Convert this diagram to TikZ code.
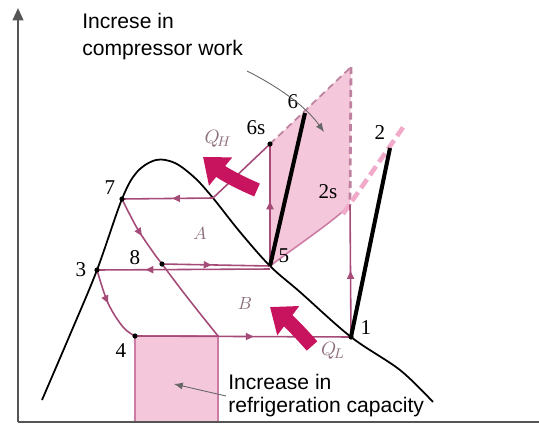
\documentclass[tikz,border=0pt]{standalone}
\usepackage{fontspec}
\setmainfont{Liberation Serif}
\newfontfamily\annfont{Liberation Sans}
\usetikzlibrary{arrows.meta,decorations.markings}
\definecolor{cyc}{RGB}{165,75,120}
\definecolor{pinkfill}{RGB}{244,200,218}
\definecolor{pinkedge}{RGB}{205,125,165}
\definecolor{dashdark}{RGB}{190,130,160}
\definecolor{dashpink}{RGB}{242,170,202}
\definecolor{qmag}{RGB}{200,20,95}
\definecolor{qtext}{RGB}{140,110,125}
\definecolor{axisgray}{RGB}{85,85,85}
\begin{document}
\begin{tikzpicture}[x=0.02cm,y=-0.02cm,
  cycline/.style={draw=cyc, line width=0.9pt},
  midarr/.style={postaction={decorate,decoration={markings,mark=at position #1 with {\arrow{Triangle[length=4.5pt,width=4pt]}}}}},
  ptdot/.style={fill=black},
  num/.style={font=\fontsize{12}{13}\selectfont, inner sep=0pt},
  ann/.style={font=\annfont\fontsize{12}{14}\selectfont, inner sep=0pt, anchor=base west},
  qarrow/.style={draw=qmag, line width=8pt, -{Triangle[width=20pt,length=13pt]}},
  thickblack/.style={line width=2.3pt, black},
  qlab/.style={text=qtext, font=\fontsize{11}{12}\selectfont, inner sep=0pt},
  arealab/.style={text=qtext, font=\itshape\fontsize{10}{11}\selectfont, inner sep=0pt},
  pointer/.style={draw=gray!80!black, line width=0.5pt, -{Latex[length=5pt,width=4pt]}},
]
\useasboundingbox (0,0) rectangle (539,427);
% coordinates
\coordinate (O) at (18,422);
\coordinate (Ytop) at (18,8);
\coordinate (Xend) at (539,422);
\coordinate (p7) at (122,199);
\coordinate (p3) at (97,270);
\coordinate (p8) at (162,264);
\coordinate (p4) at (135,336);
\coordinate (p1) at (351,337);
\coordinate (p5) at (270,266);
\coordinate (p5b) at (270,269);
\coordinate (p6s) at (270,144);
\coordinate (p2s) at (350,205);
\coordinate (p6) at (305,113);
\coordinate (p2) at (390,148);
\coordinate (pH) at (213,198);
\coordinate (ptop) at (351,67);
\coordinate (p9) at (218,336);
\coordinate (rbot) at (218,422);
\coordinate (dstart) at (343,214);
\coordinate (dend) at (404,126);

% pink regions
\fill[pinkfill] (p5) -- (p6s) -- (ptop) -- (p2s) .. controls (332,222) and (305,240) .. (p5) -- cycle;
\fill[pinkfill] (p4) rectangle (rbot);
\draw[pinkedge, line width=0.8pt] (p4 |- rbot) -- (p4) -- (p9) -- (rbot);
\draw[pinkedge, line width=0.9pt] (p2s) .. controls (332,222) and (305,240) .. (p5);
\draw[dashdark, line width=1pt, dash pattern=on 4pt off 2.5pt] (p6s) -- (ptop);
\draw[dashdark, line width=1.6pt, dash pattern=on 4pt off 2.5pt] (ptop) -- (p2s);
\draw[dashpink, line width=2.6pt, dash pattern=on 6pt off 3pt] (dstart) -- (dend);

% axes
\draw[axisgray, line width=1.3pt, -{Triangle[length=7pt,width=6pt]}] (O) -- (Ytop);
\draw[axisgray, line width=1.3pt] (O) -- (Xend);

% saturation dome
\draw[black, line width=1pt] plot[smooth, tension=0.55] coordinates {(42,400) (72,330) (p3) (p7) (137,172) (156,160) (175,163) (195,178) (pH) (240,232) (p5) (300,292) (p1) (400,370) (433,402)};

% cycle lines
\draw[cycline, midarr=0.45] (pH) -- (p7);
\draw[cycline] (p6s) -- (pH);
\draw[cycline, midarr=0.53] (p5) -- (p6s);
\draw[cycline, midarr=0.5] (p1) -- (p2s);
\draw[cycline, midarr=0.46] (p8) -- (p5);
\draw[cycline, midarr=0.72] (p5b) -- (p3);
\draw[cycline, midarr=0.55] (p4) -- (p1);
\draw[cycline, midarr=0.25] plot[smooth, tension=0.6] coordinates {(p7) (137,228) (153,252) (p8) (187,297) (p9)};
\draw[cycline, midarr=0.45] plot[smooth, tension=0.6] coordinates {(p3) (108,303) (123,327) (p4)};

% thick compression lines
\draw[thickblack] (p5) -- (p6);
\draw[thickblack] (p1) -- (p2);

% dots
\foreach \p in {p7,p3,p8,p4,p6s,p1} \fill[ptdot] (\p) circle (2.6);

% heat arrows
\draw[qarrow] (257,190) to[bend left=8] (203,157);
\draw[qarrow] (312,346) to[bend right=6] (270,307);
\node[qlab] (QH) at (218,139) {$Q_{\!H}$};
\node[qlab] (QL) at (333,351) {$Q_{\!L}$};
\node[arealab] (A) at (200,233) {$A$};
\node[arealab] (B) at (245,303) {$B$};

% point labels
\node[num] (l7) at (110,188) {7};
\node[num] (l3) at (81,270) {3};
\node[num] (l8) at (135,258) {8};
\node[num] (l4) at (121,351) {4};
\node[num] (l5) at (284,256) {5};
\node[num] (l1) at (366,328) {1};
\node[num] (l6s) at (256,128) {6s};
\node[num] (l6) at (293,102) {6};
\node[num] (l2s) at (328,192) {2s};
\node[num] (l2) at (380,133) {2};

% annotations
\node[ann] (t1) at (82,28) {Increse in};
\node[ann] (t2) at (82,55) {compressor work};
\coordinate (cw1) at (247,71);
\coordinate (cw2) at (324,132);
\draw[pointer] (cw1) .. controls (275,85) and (305,105) .. (cw2);
\node[ann] (t3) at (228,389) {Increase in};
\node[ann] (t4) at (228,412) {refrigeration capacity};
\coordinate (rc1) at (226,396);
\coordinate (rc2) at (174,384);
\draw[pointer] (rc1) -- (rc2);
\end{tikzpicture}
\end{document}
